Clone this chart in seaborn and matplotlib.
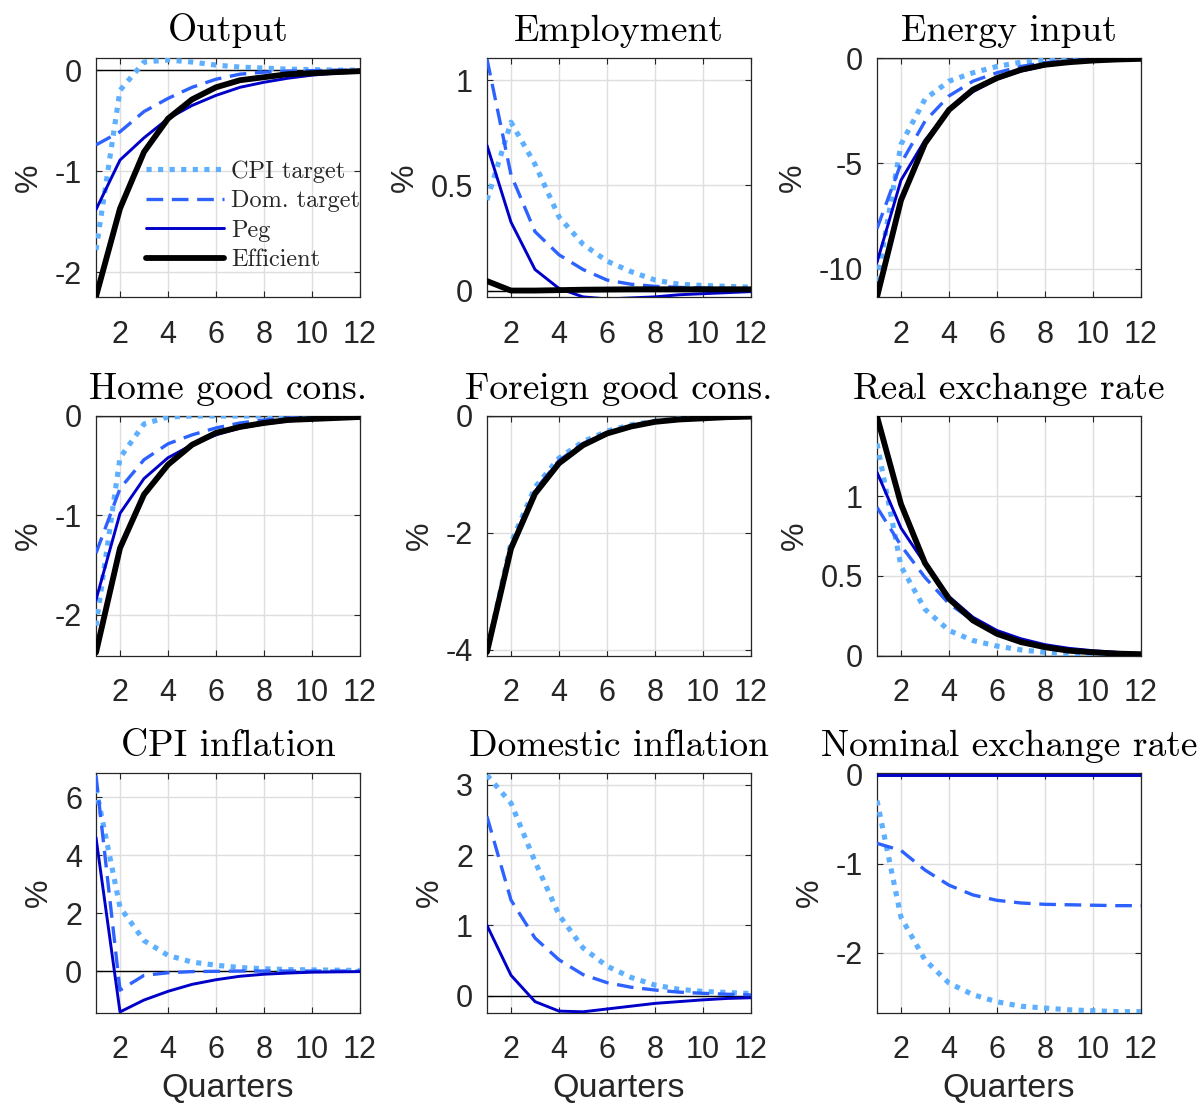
import numpy as np
import pandas as pd
import matplotlib
matplotlib.use("Agg")
import matplotlib.pyplot as plt
import seaborn as sns

quarters = [1, 2, 3, 4, 5, 6, 7, 8, 9, 10, 11, 12]
series_names = ["CPI target", "Dom. target", "Peg", "Efficient"]

output_cpi = [-1.78, -0.2, 0.08, 0.1, 0.08, 0.05, 0.03, 0.02, 0.01, 0.005, 0.0, 0.0]
output_dom = [-0.74, -0.61, -0.41, -0.28, -0.17, -0.09, -0.04, -0.02, -0.01, -0.005, 0.0, 0.0]
output_peg = [-1.38, -0.89, -0.67, -0.48, -0.35, -0.25, -0.17, -0.12, -0.08, -0.05, -0.03, -0.02]
output_eff = [-2.24, -1.37, -0.81, -0.48, -0.29, -0.17, -0.10, -0.07, -0.04, -0.03, -0.02, -0.01]

emp_cpi = [0.43, 0.80, 0.60, 0.35, 0.22, 0.14, 0.09, 0.05, 0.03, 0.024, 0.02, 0.016]
emp_dom = [1.10, 0.55, 0.28, 0.17, 0.10, 0.05, 0.03, 0.02, 0.015, 0.012, 0.01, 0.008]
emp_peg = [0.69, 0.325, 0.10, 0.01, -0.03, -0.04, -0.035, -0.03, -0.02, -0.015, -0.01, -0.005]
emp_eff = [0.045, 0.0, 0.0, 0.002, 0.004, 0.005, 0.006, 0.006, 0.006, 0.006, 0.006, 0.006]

en_cpi = [-10.6, -4.1, -1.95, -1.1, -0.7, -0.4, -0.2, -0.11, -0.05, -0.02, -0.01, 0.0]
en_dom = [-8.1, -5.0, -3.0, -1.8, -1.1, -0.7, -0.4, -0.22, -0.12, -0.07, -0.04, -0.02]
en_peg = [-9.7, -5.8, -3.9, -2.5, -1.6, -1.0, -0.62, -0.37, -0.22, -0.13, -0.07, -0.04]
en_eff = [-11.35, -6.75, -4.05, -2.46, -1.5, -0.95, -0.56, -0.32, -0.2, -0.12, -0.07, -0.04]

home_cpi = [-2.11, -0.42, -0.08, -0.01, 0.0, 0.0, 0.0, 0.0, 0.0, 0.0, 0.0, 0.0]
home_dom = [-1.38, -0.73, -0.44, -0.28, -0.19, -0.12, -0.07, -0.04, -0.02, -0.01, -0.005, 0.0]
home_peg = [-1.85, -0.98, -0.63, -0.42, -0.29, -0.19, -0.12, -0.08, -0.05, -0.03, -0.02, -0.01]
home_eff = [-2.38, -1.33, -0.79, -0.49, -0.29, -0.17, -0.11, -0.07, -0.04, -0.03, -0.02, -0.01]

for_cpi = [-4.04, -2.17, -1.22, -0.72, -0.44, -0.26, -0.15, -0.09, -0.05, -0.03, -0.02, -0.01]
for_dom = [-4.04, -2.22, -1.27, -0.76, -0.47, -0.28, -0.17, -0.10, -0.06, -0.03, -0.02, -0.01]
for_peg = [-4.04, -2.24, -1.29, -0.78, -0.48, -0.29, -0.17, -0.10, -0.06, -0.03, -0.02, -0.01]
for_eff = [-4.04, -2.27, -1.33, -0.81, -0.50, -0.30, -0.18, -0.10, -0.06, -0.04, -0.02, -0.01]

rer_cpi = [1.33, 0.56, 0.29, 0.157, 0.094, 0.059, 0.035, 0.02, 0.01, 0.006, 0.003, 0.0]
rer_dom = [0.93, 0.69, 0.49, 0.325, 0.22, 0.147, 0.094, 0.06, 0.04, 0.025, 0.015, 0.01]
rer_peg = [1.15, 0.80, 0.575, 0.37, 0.24, 0.157, 0.105, 0.068, 0.045, 0.03, 0.02, 0.013]
rer_eff = [1.50, 0.95, 0.58, 0.356, 0.22, 0.136, 0.084, 0.052, 0.03, 0.02, 0.012, 0.008]

cpiinf_cpi = [6.3, 2.2, 1.05, 0.54, 0.31, 0.2, 0.12, 0.08, 0.05, 0.04, 0.03, 0.02]
cpiinf_dom = [6.75, -0.66, -0.15, -0.06, -0.02, -0.01, 0.0, 0.0, 0.0, 0.0, 0.0, 0.0]
cpiinf_peg = [4.6, -1.41, -1.0, -0.7, -0.46, -0.3, -0.18, -0.11, -0.07, -0.04, -0.03, -0.02]

dominf_cpi = [3.14, 2.74, 1.91, 1.15, 0.68, 0.42, 0.26, 0.15, 0.09, 0.06, 0.045, 0.03]
dominf_dom = [2.55, 1.36, 0.82, 0.51, 0.30, 0.185, 0.12, 0.08, 0.05, 0.033, 0.02, 0.01]
dominf_peg = [1.0, 0.29, -0.085, -0.22, -0.23, -0.19, -0.15, -0.11, -0.085, -0.06, -0.04, -0.03]

ner_cpi = [-0.29, -1.6, -2.08, -2.34, -2.47, -2.55, -2.60, -2.62, -2.64, -2.65, -2.66, -2.66]
ner_dom = [-0.77, -0.85, -1.07, -1.24, -1.35, -1.41, -1.44, -1.455, -1.46, -1.465, -1.47, -1.47]
ner_peg = [0.0, 0.0, 0.0, 0.0, 0.0, 0.0, 0.0, 0.0, 0.0, 0.0, 0.0, 0.0]

titles = ["Output", "Employment", "Energy input",
          "Home good cons.", "Foreign good cons.", "Real exchange rate",
          "CPI inflation", "Domestic inflation", "Nominal exchange rate"]
panel_data = [
    [output_cpi, output_dom, output_peg, output_eff],
    [emp_cpi, emp_dom, emp_peg, emp_eff],
    [en_cpi, en_dom, en_peg, en_eff],
    [home_cpi, home_dom, home_peg, home_eff],
    [for_cpi, for_dom, for_peg, for_eff],
    [rer_cpi, rer_dom, rer_peg, rer_eff],
    [cpiinf_cpi, cpiinf_dom, cpiinf_peg, None],
    [dominf_cpi, dominf_dom, dominf_peg, None],
    [ner_cpi, ner_dom, ner_peg, None],
]
ylims = [(-2.25, 0.12), (-0.033, 1.105), (-11.37, 0.0),
         (-2.41, 0.0), (-4.1, 0.0), (0.0, 1.503),
         (-1.43, 6.83), (-0.24, 3.17), (-2.67, 0.02)]
yticks = [[-2, -1, 0], [0, 0.5, 1], [-10, -5, 0],
          [-2, -1, 0], [-4, -2, 0], [0, 0.5, 1],
          [0, 2, 4, 6], [0, 1, 2, 3], [-2, -1, 0]]
xticks = [2, 4, 6, 8, 10, 12]

sns.set_theme(style="ticks")
plt.rcParams["font.family"] = ["Liberation Sans", "DejaVu Sans"]
plt.rcParams["axes.unicode_minus"] = False

styles = {
    "CPI target": dict(color="#5eb0ff", lw=3.7, ls=(0, (1.0, 1.25))),
    "Dom. target": dict(color="#2e62ff", lw=2.4, ls=(0, (5.0, 2.6))),
    "Peg": dict(color="#0000c8", lw=2.1, ls="-"),
    "Efficient": dict(color="black", lw=4.2, ls="-"),
}
zorders = {"CPI target": 3, "Dom. target": 4, "Peg": 5, "Efficient": 6}

W, H = 1201, 1107
fig = plt.figure(figsize=(W / 100, H / 100), dpi=100)
col_left = [96, 487, 877]
row_top = [58, 416, 773]
aw, ah = 264, 239.5

title_font = dict(family="cmr10", size=27)
text_col = "#262626"

for i in range(9):
    r, c = divmod(i, 3)
    ax = fig.add_axes([col_left[c] / W, 1 - (row_top[r] + ah) / H, aw / W, ah / H])
    ax.axhline(0, color="black", lw=1.0, zorder=2)
    for name, vals in zip(series_names, panel_data[i]):
        if vals is None:
            continue
        st = styles[name]
        df = pd.DataFrame({"Quarter": quarters, "value": vals})
        sns.lineplot(data=df, x="Quarter", y="value", ax=ax, color=st["color"],
                     lw=st["lw"], linestyle=st["ls"], zorder=zorders[name], legend=False)
        ln = ax.get_lines()[-1]
        ln.set_dash_capstyle("butt")
        ln.set_label(name)
    ax.set_xlim(1, 12)
    ax.set_ylim(*ylims[i])
    ax.set_xticks(xticks)
    ax.set_xticklabels([str(t) for t in xticks])
    ax.set_yticks(yticks[i])
    ax.set_yticklabels([("%g" % t) for t in yticks[i]])
    ax.grid(True, color="#dedede", lw=1.0)
    ax.set_axisbelow(True)
    ax.tick_params(direction="in", length=4, width=0.8, top=True, right=True,
                   labelsize=22, colors=text_col)
    ax.tick_params(axis="x", pad=16)
    ax.tick_params(axis="y", pad=10)
    for sp in ax.spines.values():
        sp.set_visible(True)
        sp.set_color(text_col)
        sp.set_linewidth(0.9)
    ax.set_title(titles[i], fontdict=title_font, pad=12, color="black")
    ax.set_ylabel("%", fontsize=23, color=text_col, labelpad=8)
    if r == 2:
        ax.set_xlabel("Quarters", fontsize=24.5, color=text_col, labelpad=6)
    else:
        ax.set_xlabel("")
    if i == 0:
        handles = [l for l in ax.get_lines() if l.get_label() in series_names]
        leg = ax.legend(handles, series_names, loc="upper left",
                        bbox_to_anchor=(0.19, 0.572), frameon=False,
                        prop=dict(family="cmr10", size=17.5), handlelength=3.2,
                        handletextpad=0.3, labelspacing=0.3, borderpad=0.0,
                        borderaxespad=0.0)

fig.savefig("out.png", dpi=100)
